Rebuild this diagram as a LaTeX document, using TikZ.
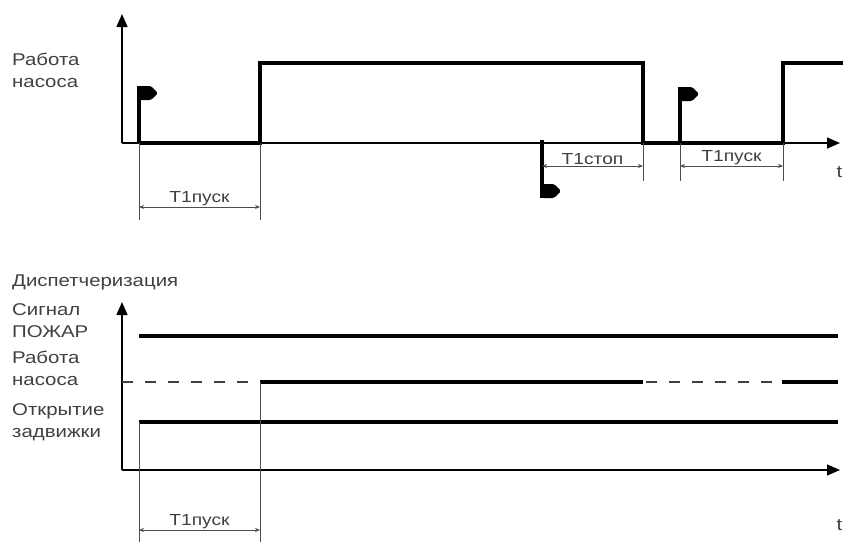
\documentclass[tikz,border=0pt]{standalone}
\usepackage{fontspec}
\setmainfont{Liberation Sans}[FakeStretch=1.2]
\usepackage{tikz}
\usetikzlibrary{arrows.meta, positioning}

\begin{document}
\begin{tikzpicture}[
  x=1pt, y=-1pt,
  every node/.style={font=\fontsize{17}{22}\selectfont, text=black!75},
  axis/.style={line width=1.4pt, -{Triangle[length=13pt, width=11pt]}},
  signal/.style={line width=3.4pt, line join=miter},
  pole/.style={line width=3.2pt},
  guide/.style={line width=0.9pt, black!70},
  dimline/.style={line width=0.9pt, black!70, {Stealth[length=5pt, width=4pt]}-{Stealth[length=5pt, width=4pt]}},
  idle/.style={line width=1.6pt, black!75, dash pattern=on 11pt off 12pt},
  dimtext/.style={font=\fontsize{16}{18}\selectfont, inner sep=1pt},
  lbl/.style={align=left, anchor=north west, inner sep=0pt},
  flag/.pic={\fill[rounded corners=1.5pt] (0,0) -- (12,0) -- (19,7) -- (12,14) -- (0,14) -- cycle;},
]
\useasboundingbox (0,0) rectangle (843,542);

% Upper diagram: pump operation
\coordinate (o1) at (122,143);
\coordinate (y1) at (122,14);
\coordinate (x1) at (840,143);
\draw[axis] (o1) -- (y1);
\draw[axis] (o1) -- (x1);
\node[anchor=east, inner sep=0.5pt] (t1) at (843,172) {t};
\node[lbl] (pump1) at (12,53) {Работа\\насоса};

\draw[signal] (139,143) -- (260,143) -- (260,63) -- (643,63) -- (643,143) -- (783,143) -- (783,63) -- (843,63);

% Start and stop flags
\draw[pole] (139,143) -- (139,86);
\pic at (139,86) {flag};
\draw[pole] (680,143) -- (680,87);
\pic at (680,87) {flag};
\draw[pole] (542,140) -- (542,198);
\pic at (542,184) {flag};

% Delays
\draw[guide] (139,143) -- (139,220);
\draw[guide] (260,143) -- (260,220);
\draw[dimline] (139,207) -- node[dimtext, above] (start1) {T1пуск} (260,207);
\draw[guide] (643,143) -- (643,181);
\draw[dimline] (542,166) -- node[dimtext, above] (stop1) {T1стоп} (643,166);
\draw[guide] (680,143) -- (680,181);
\draw[guide] (783,143) -- (783,181);
\draw[dimline] (680,166) -- node[dimtext, above] (start2) {T1пуск} (783,166);

% Lower diagram: dispatching
\node[anchor=west, inner sep=0pt] (disp) at (12,282) {Диспетчеризация};
\coordinate (o2) at (122,470);
\coordinate (y2) at (122,302);
\coordinate (x2) at (840,470);
\draw[axis] (o2) -- (y2);
\draw[axis] (o2) -- (x2);
\node[anchor=east, inner sep=0.5pt] (t2) at (843,525) {t};

\node[lbl] (fire) at (12,303) {Сигнал\\ПОЖАР};
\node[lbl] (pump2) at (12,351) {Работа\\насоса};
\node[lbl] (valve) at (12,403) {Открытие\\задвижки};

\draw[signal] (139,336) -- (838,336);
\draw[idle] (122,382) -- (260,382);
\draw[signal] (260,382) -- (643,382);
\draw[idle] (646,382) -- (780,382);
\draw[signal] (782,382) -- (838,382);
\draw[signal] (139,422) -- (838,422);

\draw[guide] (139,422) -- (139,542);
\draw[guide] (260,382) -- (260,542);
\draw[dimline] (139,530) -- node[dimtext, above] (start3) {T1пуск} (260,530);

\end{tikzpicture}
\end{document}
